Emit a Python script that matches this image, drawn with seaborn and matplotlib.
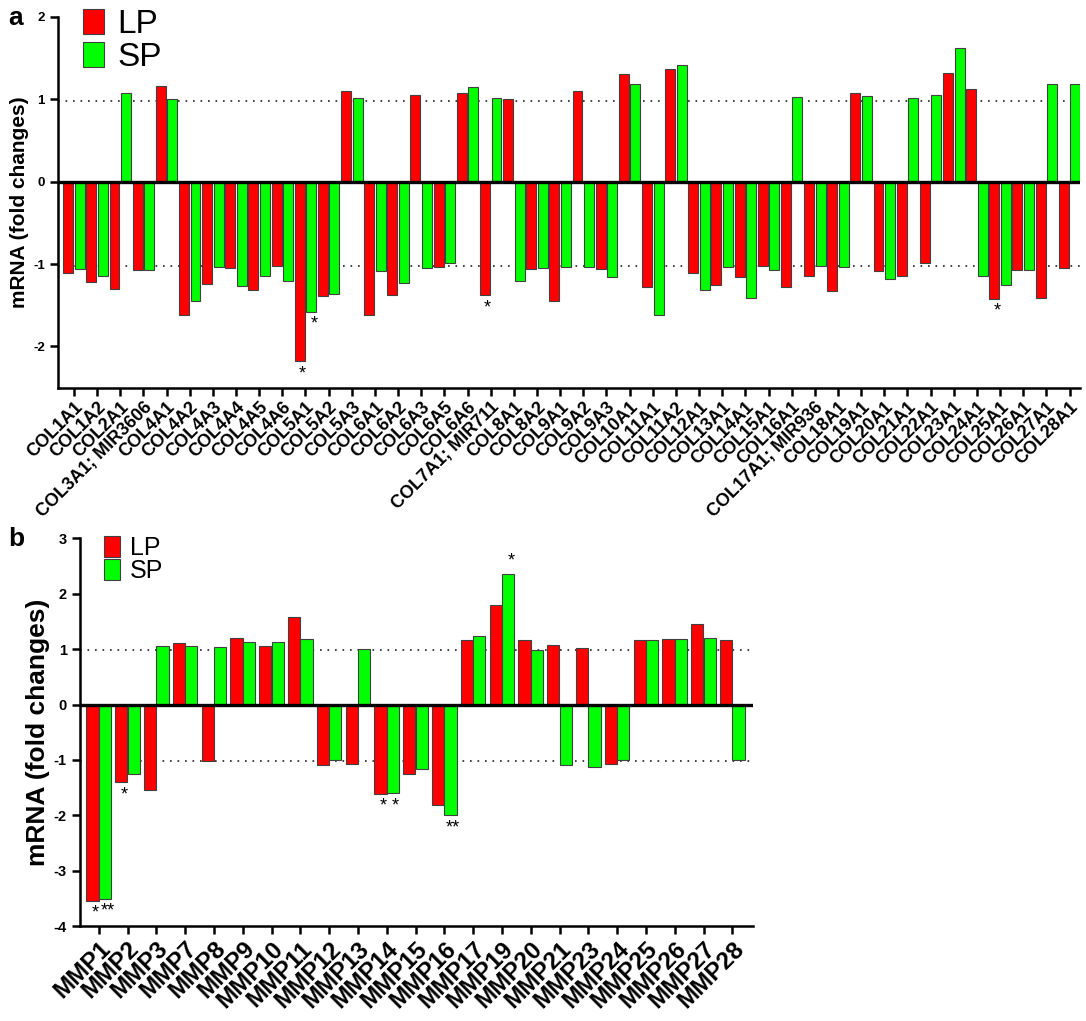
import numpy as np
import pandas as pd
import matplotlib
matplotlib.use("Agg")
import matplotlib.pyplot as plt
import seaborn as sns

# -------- data --------
col_genes = ["COL1A1", "COL1A2", "COL2A1", "COL3A1; MIR3606", "COL4A1", "COL4A2", "COL4A3",
             "COL4A4", "COL4A5", "COL4A6", "COL5A1", "COL5A2", "COL5A3", "COL6A1", "COL6A2",
             "COL6A3", "COL6A5", "COL6A6", "COL7A1; MIR711", "COL8A1", "COL8A2", "COL9A1",
             "COL9A2", "COL9A3", "COL10A1", "COL11A1", "COL11A2", "COL12A1", "COL13A1",
             "COL14A1", "COL15A1", "COL16A1", "COL17A1; MIR936", "COL18A1", "COL19A1",
             "COL20A1", "COL21A1", "COL22A1", "COL23A1", "COL24A1", "COL25A1", "COL26A1",
             "COL27A1", "COL28A1"]
col_lp = [-1.11, -1.22, -1.30, -1.07, 1.16, -1.62, -1.24, -1.05, -1.31, -1.02, -2.18, -1.39,
          1.10, -1.62, -1.37, 1.05, -1.04, 1.07, -1.38, 1.00, -1.06, -1.45, 1.10, -1.06,
          1.31, -1.28, 1.37, -1.11, -1.26, -1.16, -1.02, -1.28, -1.14, -1.33, 1.08, -1.08,
          -1.14, -0.99, 1.32, 1.12, -1.42, -1.07, -1.41, -1.05]
col_sp = [-1.06, -1.15, 1.08, -1.07, 1.00, -1.45, -1.04, -1.27, -1.14, -1.21, -1.58, -1.36,
          1.01, -1.08, -1.23, -1.05, -0.99, 1.15, 1.01, -1.20, -1.05, -1.03, -1.04, -1.16,
          1.18, -1.62, 1.41, -1.31, -1.04, -1.41, -1.07, 1.03, -1.02, -1.03, 1.04, -1.18,
          1.01, 1.05, 1.62, -1.15, -1.26, -1.07, 1.19, 1.18]
col_stars = [("COL5A1", "LP", "*"), ("COL5A1", "SP", "*"),
             ("COL7A1; MIR711", "LP", "*"), ("COL25A1", "LP", "*")]

mmp_genes = ["MMP1", "MMP2", "MMP3", "MMP7", "MMP8", "MMP9", "MMP10", "MMP11", "MMP12",
             "MMP13", "MMP14", "MMP15", "MMP16", "MMP17", "MMP19", "MMP20", "MMP21",
             "MMP23", "MMP24", "MMP25", "MMP26", "MMP27", "MMP28"]
mmp_lp = [-3.54, -1.40, -1.54, 1.11, -1.02, 1.20, 1.05, 1.58, -1.10, -1.08, -1.61, -1.25,
          -1.81, 1.16, 1.80, 1.17, 1.08, 1.02, -1.08, 1.17, 1.19, 1.46, 1.16]
mmp_sp = [-3.51, -1.25, 1.05, 1.05, 1.03, 1.12, 1.12, 1.19, -1.01, 1.00, -1.60, -1.16,
          -2.00, 1.23, 2.36, 0.99, -1.09, -1.13, -1.01, 1.17, 1.19, 1.21, -1.01]
mmp_stars = [("MMP1", "LP", "*"), ("MMP1", "SP", "**"), ("MMP2", "LP", "*"),
             ("MMP14", "LP", "*"), ("MMP14", "SP", "*"), ("MMP16", "SP", "**"),
             ("MMP19", "SP", "*")]

groups = ["LP", "SP"]
palette = {"LP": "#ff0000", "SP": "#00ff00"}

sns.set_style("ticks")
plt.rcParams["font.family"] = ["Liberation Sans", "DejaVu Sans"]
plt.rcParams["axes.linewidth"] = 1.8
plt.rcParams["axes.unicode_minus"] = False
for k in ("text.color", "axes.labelcolor", "xtick.color", "ytick.color", "axes.edgecolor"):
    plt.rcParams[k] = "black"


def long_df(genes, lp, sp):
    return pd.DataFrame({
        "gene": genes * 2,
        "group": ["LP"] * len(genes) + ["SP"] * len(genes),
        "value": lp + sp,
    })


def draw_panel(ax, genes, lp, sp, stars, ylim, width, gap, xfs, yfs, ylfs, legfs, legkw):
    df = long_df(genes, lp, sp)
    sns.barplot(data=df, x="gene", y="value", hue="group", hue_order=groups,
                order=genes, palette=palette, saturation=1, width=width, gap=gap,
                edgecolor="#404040", linewidth=0.8, errorbar=None, ax=ax)
    ax.axhline(0, color="black", lw=2.4, zorder=5)
    for yy in (0.98, -1.02):
        ax.axhline(yy, color="#222222", lw=1.2, ls=(0, (1, 3.5)), zorder=0.5)
    ax.set_ylim(*ylim)
    ax.set_yticks(range(int(np.ceil(ylim[0])), int(ylim[1]) + 1))
    ax.set_xlabel("")
    ax.set_ylabel("mRNA (fold changes)", fontsize=ylfs, fontweight="bold")
    sns.despine(ax=ax)
    ax.tick_params(axis="both", direction="out", length=6, width=1.8)
    ax.tick_params(axis="x", pad=2)
    ax.tick_params(axis="y", labelsize=yfs)
    for t in ax.get_yticklabels():
        t.set_fontweight("bold")
    ax.set_xticks(range(len(genes)))
    ax.set_xticklabels(genes, rotation=45, ha="right", rotation_mode="anchor",
                       fontsize=xfs, fontweight="bold")

    # stars under / above bars
    for gene, grp, txt in stars:
        bar = ax.containers[groups.index(grp)][genes.index(gene)]
        h = bar.get_height()
        cx = bar.get_x() + bar.get_width() / 2
        off = 9 if h > 0 else -9
        ax.annotate(txt, (cx, h), xytext=(2, off), textcoords="offset points",
                    ha="center", va="center", fontsize=13)

    handles, labels = ax.get_legend_handles_labels()
    ax.legend(handles, labels, frameon=False, fontsize=legfs, loc="upper left",
              borderpad=0, borderaxespad=0, handletextpad=0.4, **legkw)


fig = plt.figure(figsize=(10.86, 10.21), dpi=100)
ax_a = fig.add_axes([0.0534, 0.6203, 0.941, 0.3633])
ax_b = fig.add_axes([0.0737, 0.0930, 0.6197, 0.3797])

draw_panel(ax_a, col_genes, col_lp, col_sp, col_stars, (-2.5, 2), 1.0, 0.14,
           13, 9.5, 15, 24,
           dict(bbox_to_anchor=(0.024, 1.02), handlelength=0.65, handleheight=0.75,
                labelspacing=0.05))
ax_a.set_xlim(-0.69, 43.45)
ax_a.yaxis.set_label_coords(-0.028, 0.5)

draw_panel(ax_b, mmp_genes, mmp_lp, mmp_sp, mmp_stars, (-4, 3), 0.86, 0.02,
           17.5, 10.5, 19, 18,
           dict(bbox_to_anchor=(0.035, 1.005), handlelength=0.65, handleheight=0.9,
                labelspacing=-0.05))
ax_b.set_xlim(-0.65, 22.72)
ax_b.yaxis.set_label_coords(-0.044, 0.5)

fig.text(0.008, 0.982, "a", fontsize=19, fontweight="bold", va="center")
fig.text(0.008, 0.472, "b", fontsize=19, fontweight="bold", va="center")

fig.savefig("out.png", dpi=100)
